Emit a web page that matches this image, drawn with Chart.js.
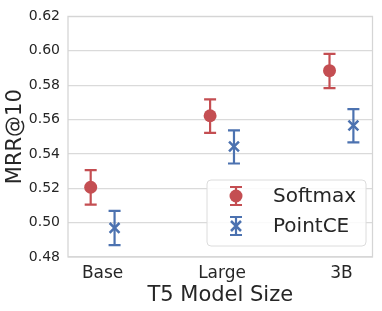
<!DOCTYPE html>
<html>
<head>
<meta charset="utf-8">
<script src="https://cdn.jsdelivr.net/npm/chart.js@4.4.1/dist/chart.umd.min.js"></script>
<style>
  html, body { margin: 0; padding: 0; background: #fff; }
  #wrap { width: 382px; height: 311px; }
</style>
</head>
<body>
<div id="wrap"><canvas id="chart" width="382" height="311"></canvas></div>
<script>
// --- data ---
const modelSizes = ['Base', 'Large', '3B'];
const softmaxMean = [0.5206, 0.5622, 0.5884];
const softmaxLow = [0.5105, 0.5522, 0.5783];
const softmaxHigh = [0.5305, 0.5717, 0.5982];
const pointceMean = [0.4969, 0.5443, 0.5565];
const pointceLow = [0.4869, 0.5344, 0.5467];
const pointceHigh = [0.5068, 0.5537, 0.5660];
const yTicks = [0.48, 0.50, 0.52, 0.54, 0.56, 0.58, 0.60, 0.62];

const RED = '#c44e52';
const BLUE = '#4c72b0';
const TEXT = '#262626';
const FONT = "'DejaVu Sans', sans-serif";
const DODGE = 0.1;

const series = [
    { label: 'Softmax', mean: softmaxMean, lo: softmaxLow, hi: softmaxHigh, color: RED, shift: -DODGE, style: 'circle' },
    { label: 'PointCE', mean: pointceMean, lo: pointceLow, hi: pointceHigh, color: BLUE, shift: DODGE, style: 'crossRot' }
];

function drawMarker(ctx, style, color, x, y) {
    ctx.save();
    if (style === 'circle') {
        ctx.fillStyle = color;
        ctx.beginPath();
        ctx.arc(x, y, 6.5, 0, Math.PI * 2);
        ctx.fill();
    } else {
        ctx.strokeStyle = color;
        ctx.lineWidth = 2.5;
        const r = 5;
        ctx.beginPath();
        ctx.moveTo(x - r, y - r); ctx.lineTo(x + r, y + r);
        ctx.moveTo(x - r, y + r); ctx.lineTo(x + r, y - r);
        ctx.stroke();
    }
    ctx.restore();
}

function drawBar(ctx, color, x, yTop, yBot, cap) {
    ctx.save();
    ctx.strokeStyle = color;
    ctx.lineWidth = 2.2;
    ctx.beginPath();
    ctx.moveTo(x, yTop); ctx.lineTo(x, yBot);
    ctx.moveTo(x - cap, yTop); ctx.lineTo(x + cap, yTop);
    ctx.moveTo(x - cap, yBot); ctx.lineTo(x + cap, yBot);
    ctx.stroke();
    ctx.restore();
}

// error bars, frame and legend
const extras = {
    id: 'extras',
    beforeDatasetsDraw(chart) {
        const ctx = chart.ctx;
        const xs = chart.scales.x, ys = chart.scales.y;
        series.forEach(s => {
            s.mean.forEach((m, i) => {
                const px = xs.getPixelForValue(i + s.shift);
                drawBar(ctx, s.color, px, ys.getPixelForValue(s.hi[i]), ys.getPixelForValue(s.lo[i]), 6);
            });
        });
    },
    afterDraw(chart) {
        const ctx = chart.ctx;
        const a = chart.chartArea;
        ctx.save();
        ctx.strokeStyle = '#d5d5d5';
        ctx.lineWidth = 1.25;
        ctx.strokeRect(a.left, a.top, a.right - a.left, a.bottom - a.top);

        // legend box
        const bx = 207, by = 180, bw = 159, bh = 66;
        ctx.beginPath();
        ctx.roundRect(bx, by, bw, bh, 4);
        ctx.fillStyle = 'rgba(255,255,255,0.85)';
        ctx.fill();
        ctx.strokeStyle = '#dcdcdc';
        ctx.lineWidth = 1;
        ctx.stroke();
        ctx.restore();

        series.forEach((s, k) => {
            const cy = 196 + k * 30;
            drawBar(ctx, s.color, 236, cy - 9, cy + 9, 6);
            drawMarker(ctx, s.style, s.color, 236, cy);
            ctx.save();
            ctx.fillStyle = TEXT;
            ctx.font = '20px ' + FONT;
            ctx.textBaseline = 'middle';
            ctx.fillText(s.label, 273, cy + 1);
            ctx.restore();
        });
    }
};

new Chart(document.getElementById('chart'), {
    type: 'scatter',
    data: {
        datasets: series.map(s => ({
            label: s.label,
            data: s.mean.map((m, i) => ({ x: i + s.shift, y: m })),
            pointStyle: s.style,
            radius: s.style === 'circle' ? 6.5 : 7,
            backgroundColor: s.color,
            borderColor: s.color,
            borderWidth: s.style === 'circle' ? 0 : 2.5
        }))
    },
    plugins: [extras],
    options: {
        responsive: false,
        animation: false,
        layout: { padding: { top: 10, right: 9, left: 0, bottom: 0 } },
        plugins: { legend: { display: false }, tooltip: { enabled: false } },
        scales: {
            x: {
                type: 'linear',
                min: -0.29,
                max: 2.26,
                afterBuildTicks: sc => { sc.ticks = modelSizes.map((c, i) => ({ value: i })); },
                afterFit: sc => { sc.height = 54; },
                grid: { display: false, drawTicks: false },
                border: { display: false },
                ticks: {
                    callback: v => modelSizes[v],
                    color: TEXT,
                    font: { family: FONT, size: 17 },
                    padding: 6,
                    maxRotation: 0
                },
                title: {
                    display: true,
                    text: 'T5 Model Size',
                    color: TEXT,
                    font: { family: FONT, size: 21 },
                    padding: { top: 0, bottom: 3 }
                }
            },
            y: {
                min: 0.48,
                max: 0.62,
                afterBuildTicks: sc => { sc.ticks = yTicks.map(v => ({ value: v })); },
                afterFit: sc => { sc.width = 68; },
                grid: { color: '#dadada', lineWidth: 1.25, drawTicks: false },
                border: { display: false },
                ticks: {
                    callback: v => v.toFixed(2),
                    color: TEXT,
                    font: { family: FONT, size: 14 },
                    padding: 8
                },
                title: {
                    display: true,
                    text: 'MRR@10',
                    color: TEXT,
                    font: { family: FONT, size: 21 },
                    padding: { top: 3, bottom: 0 }
                }
            }
        }
    }
});
</script>
</body>
</html>
